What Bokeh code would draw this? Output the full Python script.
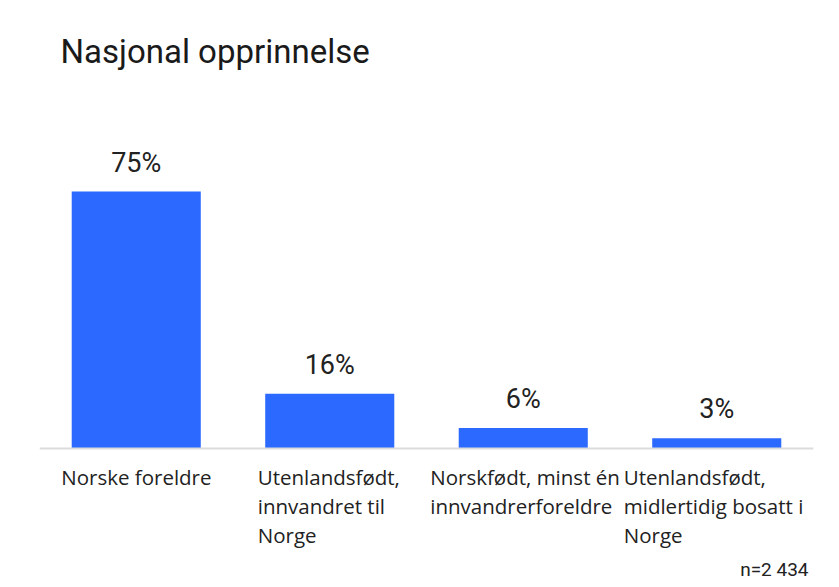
from bokeh.plotting import figure
from bokeh.models import ColumnDataSource, Range1d, FactorRange, Span, Label
from bokeh.core.properties import value
from bokeh.embed import file_html
from bokeh.resources import INLINE

# ---- data ----
categories = ["Norske foreldre", "Utenlandsfødt, innvandret til Norge",
              "Norskfødt, minst én innvandrerforeldre",
              "Utenlandsfødt, midlertidig bosatt i Norge"]
tick_labels = ["Norske foreldre", "Utenlandsfødt,\ninnvandret til\nNorge",
               "Norskfødt, minst én\ninnvandrerforeldre",
               "Utenlandsfødt,\nmidlertidig bosatt i\nNorge"]
shares = [75, 16, 6, 3]
value_labels = ["75%", "16%", "6%", "3%"]
title_text = "Nasjonal opprinnelse"
note_text = "n=2 434"

# ---- styling ----
label_x_offsets = [-75, -72, -93, -93]
BAR = "#2b69ff"

W, H = 839, 587
p = figure(width=W, height=H, output_backend="svg", toolbar_location=None,
           x_range=FactorRange(factors=categories, range_padding=0),
           y_range=Range1d(-40.56, 130.74),
           x_axis_location=None, y_axis_location=None,
           min_border_left=39, min_border_right=26,
           min_border_top=0, min_border_bottom=0)
p.outline_line_color = None
p.grid.visible = False
p.background_fill_color = "white"
p.border_fill_color = "white"

src = ColumnDataSource(dict(cat=categories, share=shares, lab=value_labels,
                            tick=tick_labels, xo=label_x_offsets))

p.vbar(x="cat", top="share", bottom=0, width=0.667, source=src,
       fill_color=BAR, line_color=None)

p.add_layout(Span(location=0, dimension="width", line_color="#dcdcdc", line_width=2))

p.text(x="cat", y="share", text="lab", source=src, text_align="center",
       text_baseline="bottom", y_offset=-13, text_font=value("Roboto"),
       text_font_size="27px", text_color="#222222")

p.text(x="cat", y=0, text="tick", source=src, text_align="left",
       text_baseline="top", x_offset="xo", y_offset=14, text_font=value("Open Sans"),
       text_font_size="20.5px", text_color="#222222", text_line_height=1.045)

p.add_layout(Label(x=21, y=536, x_units="screen", y_units="screen",
                   text=title_text, text_baseline="alphabetic", text_align="left",
                   text_font="Roboto", text_font_size="33px", text_color="#1a1a1a"))
p.add_layout(Label(x=769, y=18, x_units="screen", y_units="screen",
                   text=note_text, text_baseline="alphabetic", text_align="right",
                   text_font="Roboto", text_font_size="19px", text_color="#222222"))

open("out.html", "w").write(file_html(p, INLINE))
